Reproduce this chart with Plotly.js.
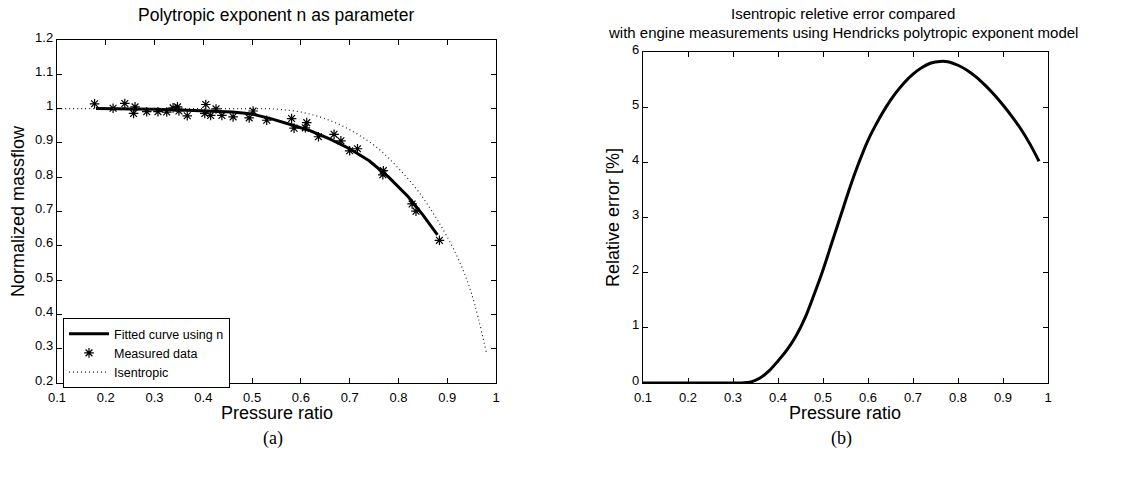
<!DOCTYPE html>
<html>
<head>
<meta charset="utf-8">
<script src="https://cdn.plot.ly/plotly-3.0.1.min.js"></script>
<style>
html,body{margin:0;padding:0;background:#fff;}
#chart{width:1124px;height:479px;}
</style>
</head>
<body>
<div id="chart"></div>
<script>
// ---- Panel (a): Polytropic exponent n as parameter ----
const fitPressureRatio = [0.18,0.22,0.26,0.30,0.34,0.38,0.42,0.46,0.50,0.54,0.58,0.62,0.66,0.70,0.74,0.78,0.82,0.85,0.88];
const fitMassflow      = [1.000,1.000,0.999,0.998,0.997,0.995,0.993,0.990,0.984,0.970,0.953,0.935,0.911,0.883,0.848,0.800,0.743,0.690,0.632];

const measPressureRatio = [0.177,0.215,0.239,0.260,0.257,0.284,0.307,0.325,0.338,0.347,0.350,0.367,0.405,0.403,0.415,0.426,0.438,0.461,0.494,0.502,0.530,0.581,0.586,0.612,0.609,0.636,0.668,0.682,0.700,0.716,0.769,0.768,0.828,0.836,0.884];
const measMassflow      = [1.014,1.001,1.015,1.005,0.986,0.991,0.991,0.990,1.002,1.005,0.993,0.979,1.012,0.986,0.980,0.999,0.980,0.976,0.973,0.993,0.966,0.971,0.943,0.959,0.944,0.918,0.925,0.906,0.877,0.883,0.819,0.807,0.722,0.701,0.616];

const isenPressureRatio = [0.10,0.20,0.30,0.40,0.50,0.53,0.56,0.60,0.64,0.68,0.72,0.76,0.80,0.84,0.88,0.92,0.95,0.98];
const isenMassflow      = [1.000,1.000,1.000,1.000,1.000,1.000,0.997,0.990,0.975,0.953,0.922,0.882,0.826,0.760,0.675,0.570,0.460,0.290];

// ---- Panel (b): relative error ----
const errPressureRatio = [0.10,0.20,0.30,0.32,0.34,0.36,0.38,0.40,0.42,0.44,0.46,0.48,0.50,0.52,0.54,0.56,0.58,0.60,0.62,0.64,0.66,0.68,0.70,0.72,0.74,0.76,0.78,0.80,0.82,0.84,0.86,0.88,0.90,0.92,0.94,0.96,0.98];
const errPercent       = [0,0,0,0.002,0.02,0.09,0.22,0.40,0.60,0.85,1.18,1.60,2.05,2.55,3.05,3.55,4.00,4.40,4.72,5.00,5.24,5.44,5.60,5.72,5.80,5.83,5.82,5.76,5.67,5.55,5.40,5.23,5.04,4.83,4.60,4.33,4.02];

// ---- Tick labels ----
const xTickVals   = [0.1,0.2,0.3,0.4,0.5,0.6,0.7,0.8,0.9,1.0];
const xTickText   = ['0.1','0.2','0.3','0.4','0.5','0.6','0.7','0.8','0.9','1'];
const yaTickVals  = [0.2,0.3,0.4,0.5,0.6,0.7,0.8,0.9,1.0,1.1,1.2];
const yaTickText  = ['0.2','0.3','0.4','0.5','0.6','0.7','0.8','0.9','1','1.1','1.2'];
const ybTickVals  = [0,1,2,3,4,5,6];
const ybTickText  = ['0','1','2','3','4','5','6'];

const FONT = 'Liberation Sans, Arial, Helvetica, sans-serif';

const traces = [
  {x: fitPressureRatio, y: fitMassflow, mode:'lines', name:'Fitted curve using n',
   line:{color:'#000', width:3}, xaxis:'x', yaxis:'y'},
  {x: measPressureRatio, y: measMassflow, mode:'markers', name:'Measured data',
   marker:{symbol:'asterisk-open', size:8, color:'#000', line:{color:'#000', width:1.2}}, xaxis:'x', yaxis:'y'},
  {x: isenPressureRatio, y: isenMassflow, mode:'lines', name:'Isentropic', line:{shape:'spline', color:'#222', width:1.2, dash:'1px,3px'}, xaxis:'x', yaxis:'y'},
  {x: errPressureRatio, y: errPercent, mode:'lines', name:'Relative error', showlegend:false,
   line:{shape:'spline', color:'#000', width:3}, xaxis:'x2', yaxis:'y2'}
];

const axBase = {
  showgrid:false, zeroline:false, showline:true, linecolor:'#000', linewidth:1.2,
  mirror:'allticks', ticks:'inside', ticklen:5, tickcolor:'#000', tickwidth:1,
  tickfont:{family:FONT, size:13, color:'#000'}
};

const W = 1124, H = 479;
const px = v => v / W;
const py = v => 1 - v / H;

const layout = {
  width:W, height:H, margin:{l:0,r:0,t:0,b:0},
  paper_bgcolor:'#fff', plot_bgcolor:'#fff',
  showlegend:true,
  legend:{x:px(63), y:py(318), xanchor:'left', yanchor:'top',
          bgcolor:'#fff', bordercolor:'#000', borderwidth:1,
          font:{family:FONT, size:12.5, color:'#000'}, tracegroupgap:0, itemwidth:40},
  xaxis:Object.assign({}, axBase, {domain:[px(57), px(496)], range:[0.1,1], tickvals:xTickVals, ticktext:xTickText, anchor:'y', ticklabelstandoff:2}),
  yaxis:Object.assign({}, axBase, {domain:[py(383), py(40)], range:[0.2,1.2], tickvals:yaTickVals, ticktext:yaTickText, anchor:'x', ticklabelshift:-3}),
  xaxis2:Object.assign({}, axBase, {domain:[px(643), px(1048)], range:[0.1,1], tickvals:xTickVals, ticktext:xTickText, anchor:'y2', ticklabelstandoff:2}),
  yaxis2:Object.assign({}, axBase, {domain:[py(383), py(52)], range:[0,6], tickvals:ybTickVals, ticktext:ybTickText, anchor:'x2', ticklabelshift:-3}),
  annotations:[
    {text:'Polytropic exponent n as parameter', x:px(276), y:py(15), xref:'paper', yref:'paper', showarrow:false, xanchor:'center', yanchor:'middle', font:{family:FONT, size:17.5, color:'#000'}},
    {text:'Isentropic reletive error compared', x:px(843), y:py(14), xref:'paper', yref:'paper', showarrow:false, xanchor:'center', yanchor:'middle', font:{family:FONT, size:15, color:'#000'}},
    {text:'with engine measurements using Hendricks polytropic exponent model', x:px(843), y:py(32), xref:'paper', yref:'paper', showarrow:false, xanchor:'center', yanchor:'middle', font:{family:FONT, size:15, color:'#000'}},
    {text:'Pressure ratio', x:px(277), y:py(413), xref:'paper', yref:'paper', showarrow:false, xanchor:'center', yanchor:'middle', font:{family:FONT, size:18, color:'#000'}},
    {text:'Pressure ratio', x:px(845), y:py(413), xref:'paper', yref:'paper', showarrow:false, xanchor:'center', yanchor:'middle', font:{family:FONT, size:18, color:'#000'}},
    {text:'Normalized massflow', x:px(18), y:py(211), xref:'paper', yref:'paper', showarrow:false, textangle:-90, xanchor:'center', yanchor:'middle', font:{family:FONT, size:18, color:'#000'}},
    {text:'Relative error [%]', x:px(613), y:py(218), xref:'paper', yref:'paper', showarrow:false, textangle:-90, xanchor:'center', yanchor:'middle', font:{family:FONT, size:18, color:'#000'}},
    {text:'(a)', x:px(273), y:py(438), xref:'paper', yref:'paper', showarrow:false, xanchor:'center', yanchor:'middle', font:{family:'Liberation Serif, DejaVu Serif, serif', size:18, color:'#000'}},
    {text:'(b)', x:px(841), y:py(438), xref:'paper', yref:'paper', showarrow:false, xanchor:'center', yanchor:'middle', font:{family:'Liberation Serif, DejaVu Serif, serif', size:18, color:'#000'}}
  ]
};

Plotly.newPlot('chart', traces, layout, {staticPlot:true, displayModeBar:false});
</script>
</body>
</html>
